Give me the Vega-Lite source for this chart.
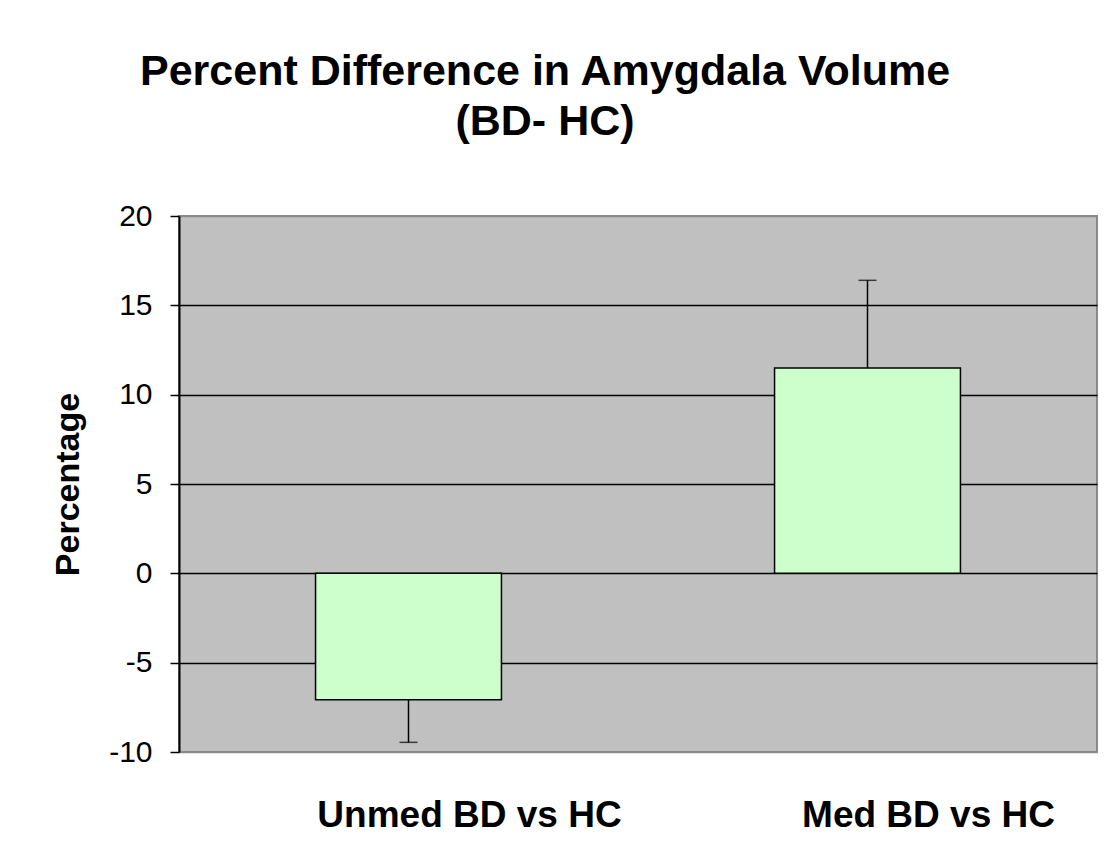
{
  "$schema": "https://vega.github.io/schema/vega-lite/v6.json",
  "autosize": {"type": "none"},
  "width": 918,
  "height": 536,
  "padding": {"left": 179, "top": 216, "right": 16, "bottom": 102},
  "background": "white",
  "title": {
    "text": ["Percent Difference in Amygdala Volume", "(BD- HC)"],
    "font": "Liberation Sans",
    "fontSize": 43,
    "fontWeight": "bold",
    "color": "black",
    "anchor": "middle",
    "dx": -93,
    "offset": 57,
    "lineHeight": 50
  },
  "config": {
    "view": {"fill": "#c0c0c0", "stroke": "#8a8a8a", "strokeWidth": 2},
    "axis": {"labelFont": "Liberation Sans", "titleFont": "Liberation Sans", "labelColor": "black", "titleColor": "black"}
  },
  "data": {
    "values": [
      {"group": "Unmed BD vs HC", "value": -7.07, "err_end": -9.46},
      {"group": "Med BD vs HC", "value": 11.49, "err_end": 16.4}
    ]
  },
  "encoding": {
    "x": {
      "field": "group",
      "type": "nominal",
      "sort": ["Unmed BD vs HC", "Med BD vs HC"],
      "scale": {"paddingInner": 0, "paddingOuter": 0},
      "axis": {
        "title": null,
        "labelAngle": 0,
        "labelFontSize": 37,
        "labelFontWeight": "bold",
        "labelLimit": 0,
        "labelOffset": 61,
        "labelPadding": 45,
        "ticks": false,
        "domain": false,
        "grid": false
      }
    }
  },
  "layer": [
    {
      "mark": {"type": "bar", "fill": "#ccffcc", "stroke": "black", "strokeWidth": 1.5, "width": {"band": 0.405}},
      "encoding": {
        "y": {
          "field": "value",
          "type": "quantitative",
          "scale": {"domain": [-10, 20], "nice": false, "zero": false},
          "axis": {
            "title": "Percentage",
            "titleFontSize": 34,
            "titleFontWeight": "bold",
            "titlePadding": 23,
            "values": [-10, -5, 0, 5, 10, 15, 20],
            "labelExpr": "replace(datum.label, '\u2212', '-')",
            "labelFontSize": 30,
            "labelPadding": 18,
            "tickSize": 9,
            "tickColor": "black",
            "tickWidth": 1.5,
            "domainColor": "black",
            "domainWidth": 2,
            "grid": true,
            "gridColor": {"condition": {"test": "datum.value == 20 || datum.value == -10", "value": "#8a8a8a"}, "value": "black"},
            "gridWidth": 1.5,
            "gridOpacity": 1
          }
        }
      }
    },
    {
      "mark": {"type": "rule", "color": "black", "strokeWidth": 1.5},
      "encoding": {
        "y": {"field": "value", "type": "quantitative"},
        "y2": {"field": "err_end"}
      }
    },
    {
      "mark": {"type": "tick", "color": "black", "thickness": 1.5, "size": 18},
      "encoding": {
        "y": {"field": "err_end", "type": "quantitative"}
      }
    }
  ]
}
